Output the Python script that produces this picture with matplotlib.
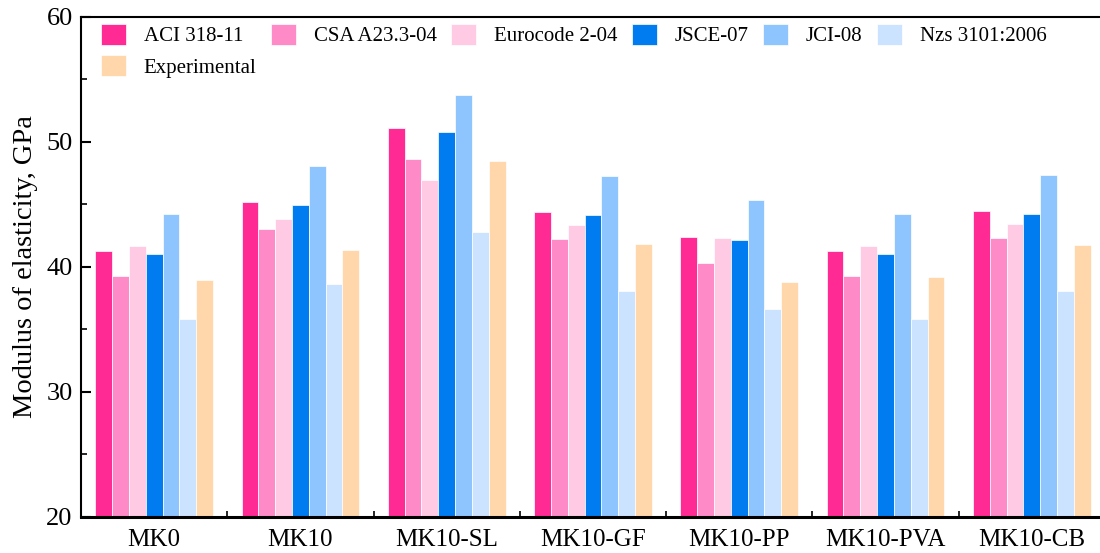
import numpy as np
import matplotlib
matplotlib.use("Agg")
import matplotlib.pyplot as plt
from matplotlib.ticker import MultipleLocator, FixedLocator

plt.rcParams["font.family"] = ["Liberation Serif", "DejaVu Serif"]

# Mix designs along the x axis
mixes = ["MK0", "MK10", "MK10-SL", "MK10-GF", "MK10-PP", "MK10-PVA", "MK10-CB"]

# Predicted / measured elastic modulus (GPa) for each code
aci = [41.25, 45.23, 51.15, 44.37, 42.37, 41.25, 44.45]
csa = [39.25, 43.00, 48.67, 42.24, 40.32, 39.25, 42.35]
euro = [41.65, 43.81, 46.96, 43.36, 42.29, 41.68, 43.44]
jsce = [41.00, 44.93, 50.83, 44.13, 42.13, 41.00, 44.20]
jci = [44.27, 48.05, 53.73, 47.28, 45.33, 44.27, 47.36]
nzs = [35.87, 38.64, 42.80, 38.08, 36.64, 35.87, 38.10]
experimental = [38.93, 41.39, 48.45, 41.87, 38.80, 39.20, 41.76]

series_names = ["ACI 318-11", "CSA A23.3-04", "Eurocode 2-04", "JSCE-07",
                "JCI-08", "Nzs 3101:2006", "Experimental"]
series_values = [aci, csa, euro, jsce, jci, nzs, experimental]
colors = ["#FF2A93", "#FF8AC8", "#FFCAE3", "#007BF0",
          "#8EC5FF", "#CCE3FF", "#FFD7AA"]

fig = plt.figure(figsize=(11.0, 5.53), dpi=100)
ax = fig.add_axes([0.0736, 0.0651, 0.9309, 0.9042])

x = np.arange(len(mixes))
n = len(series_values)
bw = 0.115
handles = []
for i, (name, vals, c) in enumerate(zip(series_names, series_values, colors)):
    offs = (i - (n - 1) / 2) * bw
    b = ax.bar(x + offs, np.array(vals) - 20, width=bw, bottom=20, color=c,
               edgecolor="white", linewidth=0.5, label=name, zorder=2)
    handles.append(b)

ax.set_xlim(-0.5, len(mixes) - 0.5)
ax.set_ylim(20, 60)
ax.set_xticks(x)
ax.set_xticklabels(mixes, fontsize=18)
ax.xaxis.set_minor_locator(FixedLocator(x[:-1] + 0.5))
ax.yaxis.set_major_locator(MultipleLocator(10))
ax.yaxis.set_minor_locator(MultipleLocator(5))
ax.tick_params(axis="y", which="major", direction="in", length=7, width=1.5,
               labelsize=19, pad=6)
ax.tick_params(axis="y", which="minor", direction="in", length=4, width=1.2)
ax.tick_params(axis="x", which="major", direction="in", length=6, width=1.5,
               pad=9)
ax.tick_params(axis="x", which="minor", direction="in", length=4, width=1.2)
for side in ["left", "top", "right"]:
    ax.spines[side].set_linewidth(1.5)
ax.spines["bottom"].set_linewidth(2.2)

ax.set_ylabel("Modulus of elasticity, GPa", fontsize=20.5, labelpad=6)

# legend fills row-wise: six codes on top, experimental underneath
order = [0, 6, 1, 2, 3, 4, 5]
ax.legend([handles[k] for k in order], [series_names[k] for k in order],
          loc="upper left", ncol=6, frameon=False, fontsize=15,
          bbox_to_anchor=(0.0195, 0.986), handlelength=1.2, handleheight=1.15,
          handletextpad=0.85, columnspacing=0.7, labelspacing=0.42,
          borderaxespad=0.0, borderpad=0.0)

fig.savefig("out.png", dpi=100)
